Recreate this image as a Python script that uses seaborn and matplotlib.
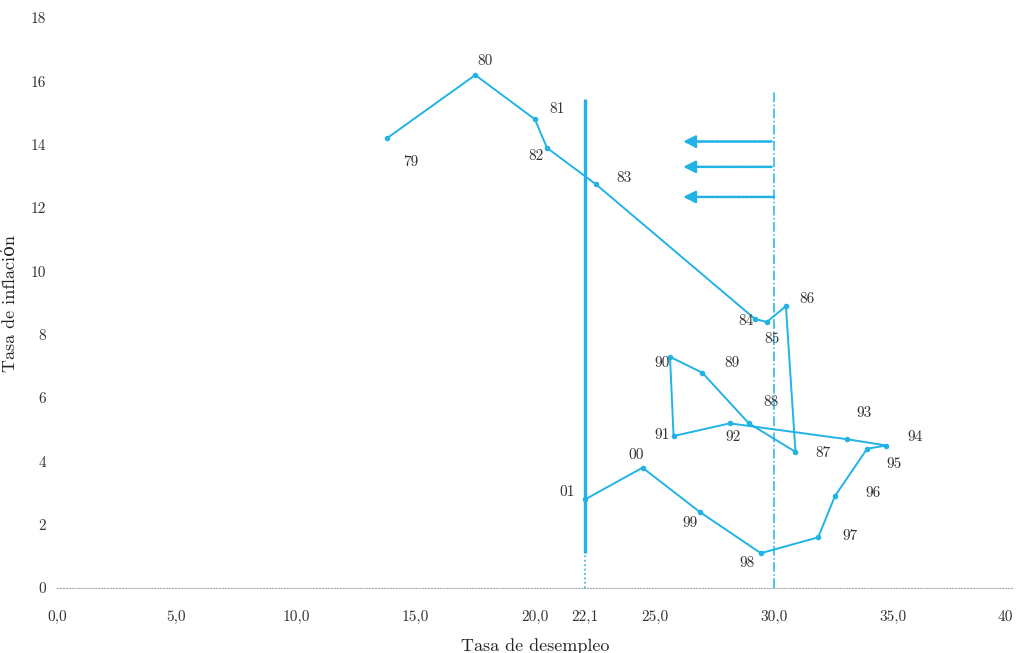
import matplotlib
matplotlib.use("Agg")
import matplotlib.pyplot as plt
import seaborn as sns
import pandas as pd

# Curva de Phillips: desempleo vs inflacion, 1979-2001
years = ['79', '80', '81', '82', '83', '84', '85', '86', '87', '88', '89', '90',
         '91', '92', '93', '94', '95', '96', '97', '98', '99', '00', '01']
desempleo = [13.8, 17.5, 20.0, 20.5, 22.55, 29.2, 29.7, 30.5, 30.9, 28.95, 27.0, 25.65,
             25.8, 28.15, 33.05, 34.7, 33.9, 32.55, 31.85, 29.45, 26.9, 24.5, 22.1]
inflacion = [14.2, 16.2, 14.8, 13.9, 12.75, 8.5, 8.4, 8.9, 4.3, 5.2, 6.8, 7.3,
             4.8, 5.2, 4.7, 4.5, 4.4, 2.9, 1.6, 1.1, 2.4, 3.8, 2.8]

xticks = [0, 5, 10, 15, 20, 22.1, 25, 30, 35, 40]
xtick_labels = ['0,0', '5,0', '10,0', '15,0', '20,0', '22,1', '25,0', '30,0', '35,0', '40']
yticks = [0, 2, 4, 6, 8, 10, 12, 14, 16, 18]

arrow_y = [14.1, 13.3, 12.35]

# label offsets in pixels (right, down)
label_off = [(24, 24), (10, -14), (22, -10), (-11, 8), (28, -6), (-9, 2), (5, 17),
             (21, -7), (28, 1), (22, -21), (30, -10), (-8, 6), (-12, -1), (3, 14),
             (17, -26), (29, -8), (27, 15), (38, -3), (32, -1), (-14, 10), (-10, 11),
             (-6, -13), (-18, -7)]

df = pd.DataFrame({'desempleo': desempleo, 'inflacion': inflacion, 'anio': years})

sns.set_style('white')
plt.rcParams['font.family'] = ['cmr10', 'DejaVu Serif']
plt.rcParams['axes.formatter.use_mathtext'] = True

blue = '#22b3e6'

fig = plt.figure(figsize=(10.16, 6.53), dpi=100)
ax = fig.add_axes([0.0561, 0.0995, 0.9409, 0.8729])

sns.lineplot(data=df, x='desempleo', y='inflacion', sort=False, color=blue,
             lw=1.4, marker='o', markersize=4, markeredgewidth=0, ax=ax)

for x, y, t, (dx, dy) in zip(desempleo, inflacion, years, label_off):
    ax.annotate(t, (x, y), xytext=(dx, -dy), textcoords='offset pixels',
                ha='center', va='center', fontsize=11, color='#333333')

# desempleo de referencia 22,1 y 30,0
ax.plot([22.1, 22.1], [1.1, 15.45], color=blue, lw=2.4, solid_capstyle='butt')
ax.plot([22.1, 22.1], [0, 1.1], color=blue, lw=1.2, ls=':')
ax.plot([30, 30], [0, 15.65], color=blue, lw=1.1, ls='-.')

for i, y in enumerate(arrow_y):
    x0 = 30.0 if i == 2 else 29.9
    ax.annotate('', xy=(26.2, y), xytext=(x0, y),
                arrowprops=dict(arrowstyle='-|>', color=blue, lw=1.8,
                                linestyle=(0, (1.2, 0.5)), mutation_scale=18,
                                shrinkA=0, shrinkB=0))

ax.set_xlim(0, 40)
ax.set_ylim(0, 18)
ax.set_xticks(xticks)
ax.set_xticklabels(xtick_labels)
ax.get_xticklabels()[-1].set_ha('right')
ax.set_yticks(yticks)
ax.set_yticklabels([str(v) for v in yticks])
ax.tick_params(axis='x', length=4, width=0.6, color='#aaaaaa', direction='inout',
               labelsize=11, pad=14, labelcolor='#333333')
ax.tick_params(axis='y', length=0, labelsize=11, pad=8, labelcolor='#333333')

for s in ['top', 'right', 'left']:
    ax.spines[s].set_visible(False)
ax.spines['bottom'].set_color('#aaaaaa')
ax.spines['bottom'].set_linestyle(':')
ax.spines['bottom'].set_linewidth(0.8)

ax.set_xlabel('Tasa de desempleo', fontsize=13, labelpad=10, color='#222222')
ax.set_ylabel('Tasa de inflación', fontsize=13, color='#222222')
ax.yaxis.set_label_coords(-0.041, 0.5)

fig.savefig('out.png', dpi=100)
